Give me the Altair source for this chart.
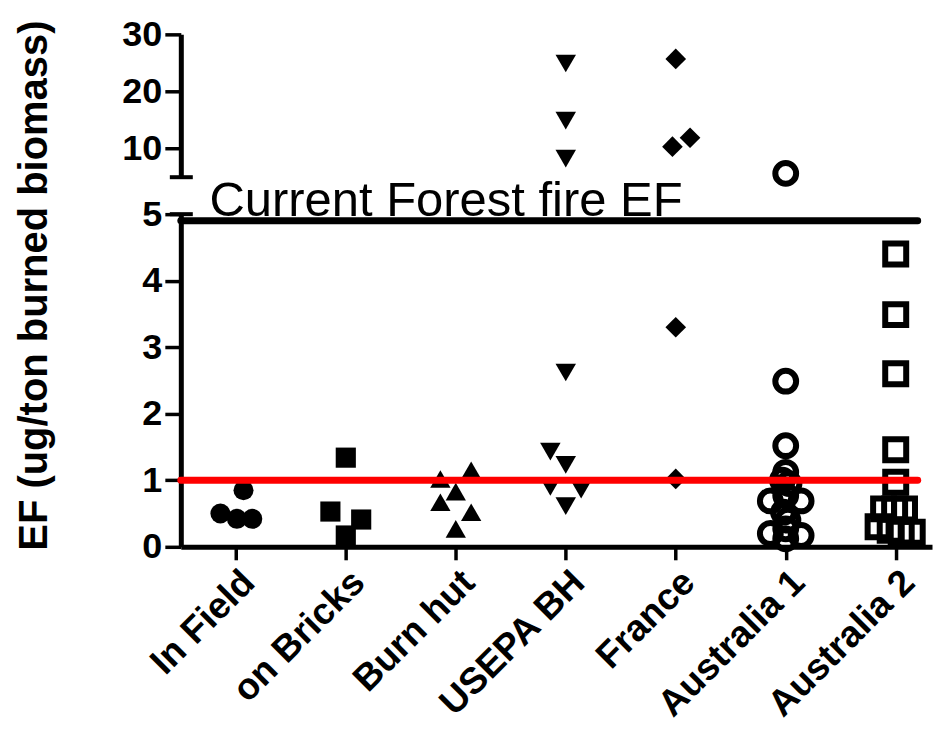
import json
import altair as alt
import pandas as pd

# ---------------- data ----------------
groups = ["In Field", "on Bricks", "Burn hut", "USEPA BH", "France", "Australia 1", "Australia 2"]

in_field = [0.85, 0.50, 0.42, 0.42]
on_bricks = [1.34, 0.53, 0.41, 0.17]
burn_hut = [1.02, 1.15, 0.83, 0.67, 0.52, 0.27]
usepa_bh = [24.9, 14.9, 8.25, 2.62, 1.43, 1.23, 0.90, 0.86, 0.61]
france = [25.7, 11.9, 10.35, 3.30, 1.02]
australia_1 = [5.67, 2.49, 1.52, 1.12, 1.00, 0.95, 0.77, 0.69, 0.69, 0.52, 0.40, 0.27, 0.20, 0.17, 0.12]
australia_2 = [4.40, 3.49, 2.60, 1.46, 0.97, 0.57, 0.57, 0.57, 0.30, 0.25, 0.22, 0.22]

# horizontal scatter of each point (fraction of the category spacing)
in_field_jit = [0.07, -0.14, 0.01, 0.15]
on_bricks_jit = [0.0, -0.14, 0.14, 0.0]
burn_hut_jit = [-0.14, 0.14, 0.0, -0.14, 0.14, 0.0]
usepa_bh_jit = [0.0, 0.0, 0.0, 0.0, -0.14, 0.0, -0.14, 0.14, 0.0]
france_jit = [0.0, 0.13, -0.03, 0.0, 0.0]
australia_1_jit = [0.0, 0.0, 0.0, 0.0, -0.03, 0.03, 0.0, -0.14, 0.14, -0.02, 0.02, 0.0, -0.14, 0.14, 0.0]
australia_2_jit = [0.0, 0.0, 0.0, 0.0, 0.0, -0.11, -0.01, 0.08, -0.16, -0.05, 0.05, 0.15]

forest_fire_ef = 4.9
reference_ef = 1.0
forest_label = "Current Forest fire EF"
y_title = "EF (ug/ton burned biomass)"
top_ticks = [10, 20, 30]
bottom_ticks = [0, 1, 2, 3, 4, 5]
axis_break = 5

series = [in_field, on_bricks, burn_hut, usepa_bh, france, australia_1, australia_2]
jits = [in_field_jit, on_bricks_jit, burn_hut_jit, usepa_bh_jit, france_jit, australia_1_jit, australia_2_jit]

rows = []
for i, (g, vals, js) in enumerate(zip(groups, series, jits)):
    for v, j in zip(vals, js):
        rows.append({"group": g, "pos": i + j, "ef": v})
df = pd.DataFrame(rows)

lines_df = pd.DataFrame({"x0": [-0.5, -0.5], "x1": [6.2, 6.2],
                         "ef": [forest_fire_ef, reference_ef]})
text_df = pd.DataFrame({"x": [-0.24], "ef": [forest_fire_ef], "label": [forest_label]})
break_df = pd.DataFrame({"ef": [axis_break]})

# ---------------- scales ----------------
W = 752
xscale = alt.Scale(domain=[-0.5, 6.33], nice=False, zero=False)
shape_scale = alt.Scale(domain=groups, range=["circle", "square", "triangle-up", "triangle-down",
                                              "diamond", "circle", "square"])
size_scale = alt.Scale(domain=groups, range=[400, 441, 484, 529, 660, 400, 420])

FONT = "Liberation Sans"


def point_layers(base, x, y):
    enc = dict(x=x, y=y,
               shape=alt.Shape("group:N", scale=shape_scale, legend=None),
               size=alt.Size("group:N", scale=size_scale, legend=None))
    filled = base.transform_filter(
        alt.FieldOneOfPredicate(field="group", oneOf=groups[:5])
    ).mark_point(filled=True, color="black", opacity=1).encode(**enc)
    hollow = base.transform_filter(
        alt.FieldOneOfPredicate(field="group", oneOf=groups[5:])
    ).mark_point(filled=False, color="black", strokeWidth=6, opacity=1).encode(**enc)
    return filled, hollow


# ---------------- top panel (5 - 30) ----------------
x_top = alt.X("pos:Q", scale=xscale, axis=None)
y_top = alt.Y("ef:Q", scale=alt.Scale(domain=[axis_break, 30], nice=False, zero=False),
              axis=alt.Axis(values=top_ticks, title=None, tickSize=16, labelPadding=3, format="d"))
top_base = alt.Chart(df).transform_filter(alt.datum.ef > axis_break)
tf, th = point_layers(top_base, x_top, y_top)
top_cap = alt.Chart(break_df).mark_rule(color="black", strokeWidth=4).encode(
    y=alt.Y("ef:Q"), x=alt.value(-11), x2=alt.value(12))
top = alt.layer(tf, th, top_cap).properties(width=W, height=143)

# ---------------- bottom panel (0 - 5) ----------------
labels_js = json.dumps(groups)
x_bot = alt.X("pos:Q", scale=xscale,
              axis=alt.Axis(values=list(range(len(groups))), labelExpr=f"{labels_js}[datum.value]",
                            labelAngle=-45, labelFontSize=37, tickSize=13, labelPadding=4,
                            labelOverlap=False, labelLimit=0, labelBound=False,
                            title=None))
y_bot = alt.Y("ef:Q", scale=alt.Scale(domain=[0, axis_break], nice=False, zero=False),
              axis=alt.Axis(values=bottom_ticks, tickSize=16, labelPadding=3, format="d",
                            title=y_title, titleFontSize=40, titleX=-126, titleY=71,
                            titleAngle=-90, titleBaseline="bottom", titleAlign="center"))
bot_base = alt.Chart(df).transform_filter(alt.datum.ef <= axis_break)
bf, bh = point_layers(bot_base, x_bot, y_bot)

black_line = alt.Chart(lines_df).transform_filter(alt.datum.ef == forest_fire_ef).mark_rule(
    color="black", strokeWidth=7, strokeCap="round").encode(
    x="x0:Q", x2="x1:Q", y="ef:Q")
red_line = alt.Chart(lines_df).transform_filter(alt.datum.ef == reference_ef).mark_rule(
    color="#ff0000", strokeWidth=7, strokeCap="round").encode(
    x="x0:Q", x2="x1:Q", y="ef:Q")
label = alt.Chart(text_df).mark_text(align="left", baseline="alphabetic", font=FONT,
                                     fontSize=49, dy=-5, color="black").encode(
    x="x:Q", y="ef:Q", text="label:N")
bot_cap = alt.Chart(break_df).mark_rule(color="black", strokeWidth=4).encode(
    y=alt.Y("ef:Q"), x=alt.value(-11), x2=alt.value(12))

bottom = alt.layer(bf, bh, red_line, black_line, label, bot_cap).properties(width=W, height=333)

chart = alt.vconcat(top, bottom, spacing=37, bounds="flush").properties(
    padding={"left": 6, "top": 8, "right": 0, "bottom": 0}
).configure_view(stroke=None).configure_axis(
    grid=False, domainColor="black", domainWidth=5, tickColor="black", tickWidth=3.5,
    labelColor="black", labelFont=FONT, labelFontWeight="bold", labelFontSize=36,
    titleColor="black", titleFont=FONT, titleFontWeight="bold"
)

chart.save("out.html", embed_options={"renderer": "svg", "actions": False})
